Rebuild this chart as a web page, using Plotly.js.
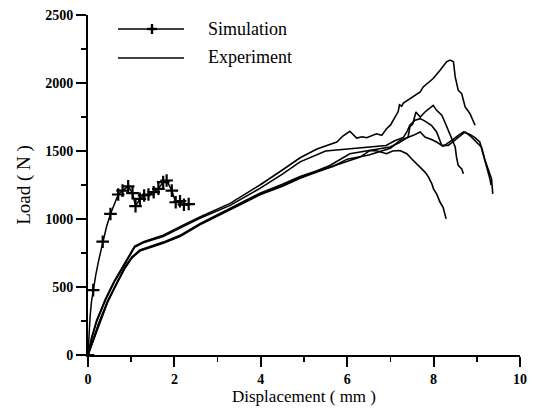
<!DOCTYPE html>
<html>
<head>
<meta charset="utf-8">
<script src="https://cdn.plot.ly/plotly-3.0.1.min.js"></script>
<style>html,body{margin:0;padding:0;background:#fff;}#chart{width:535px;height:415px;}</style>
</head>
<body>
<div id="chart"></div>
<script>
// Simulation markers ("+")
var simX = [0, 0.12, 0.34, 0.52, 0.70, 0.80, 0.93, 1.03, 1.10, 1.20, 1.30, 1.40, 1.52, 1.63, 1.74, 1.82, 1.94, 2.03, 2.13, 2.22, 2.33];
var simY = [0, 477, 833, 1037, 1180, 1209, 1240, 1190, 1095, 1148, 1173, 1180, 1197, 1222, 1271, 1283, 1209, 1123, 1131, 1105, 1110];
// Simulation curve
var simLineX = [0, 0.02, 0.05, 0.08, 0.12, 0.18, 0.25, 0.34, 0.43, 0.52, 0.61, 0.70, 0.80, 0.93, 1.03, 1.10, 1.20, 1.30, 1.40, 1.52, 1.63, 1.74, 1.82, 1.94, 2.03, 2.13, 2.22, 2.33];
var simLineY = [0, 150, 290, 390, 477, 590, 700, 833, 945, 1037, 1115, 1180, 1209, 1240, 1190, 1095, 1148, 1173, 1180, 1197, 1222, 1271, 1283, 1209, 1123, 1131, 1105, 1110];

// Experiment curves
var expAX = [0,0.08,0.2,0.4,0.6,0.8,0.95,1.08,1.3,1.74,2.2,2.59,3.29,3.98,4.5,4.91,5.3,5.76,5.9,6.06,6.22,6.35,6.45,6.58,6.68,6.8,6.91,7.0,7.11,7.18,7.21,7.26,7.3,7.5,7.69,7.76,7.9,7.99,8.15,8.3,8.38,8.46,8.5,8.57,8.65,8.73,8.84,8.96];
var expAY = [0,125,255,410,540,650,730,800,835,880,955,1015,1115,1250,1360,1450,1515,1566,1610,1645,1595,1605,1598,1615,1627,1615,1664,1690,1750,1790,1840,1830,1853,1895,1934,1971,2005,2033,2094,2156,2168,2156,2045,1947,1922,1824,1776,1689];

var expBX = [0,0.1,0.25,0.45,0.65,0.85,1.02,1.2,1.74,2.13,2.59,3.29,3.98,4.5,4.91,5.3,5.6,6.06,6.53,6.99,7.2,7.41,7.45,7.52,7.59,7.65,7.69,7.8,7.95,7.99,8.07,8.19,8.26,8.34,8.42,8.5,8.53,8.57,8.65,8.69];
var expBY = [0,95,235,395,525,645,722,772,830,880,966,1076,1190,1255,1312,1355,1394,1480,1504,1529,1560,1603,1676,1700,1787,1763,1750,1787,1824,1836,1799,1763,1713,1652,1590,1529,1455,1394,1369,1332];

var expCX = [0,0.08,0.2,0.4,0.6,0.8,0.95,1.08,1.3,1.74,2.2,2.59,3.29,3.98,4.5,4.91,5.5,6.0,6.5,6.9,7.1,7.3,7.38,7.45,7.57,7.69,7.8,7.95,8.07,8.19,8.34,8.45,8.57,8.73,8.85,8.92,9.11,9.19,9.27,9.34,9.37];
var expCY = [0,115,245,400,530,640,722,792,828,872,945,1005,1100,1225,1330,1420,1500,1515,1525,1540,1575,1600,1640,1690,1726,1738,1720,1689,1640,1541,1541,1570,1603,1640,1610,1590,1529,1431,1357,1296,1185];

var expDX = [0,0.1,0.25,0.45,0.65,0.85,1.02,1.2,1.74,2.13,2.59,3.29,3.98,4.5,4.91,5.3,5.68,6.0,6.5,7.0,7.22,7.4,7.53,7.69,7.8,7.95,8.07,8.22,8.3,8.42,8.55,8.69,8.84,8.95,9.07,9.15,9.22,9.3,9.33];
var expDY = [0,88,225,385,515,635,714,764,822,872,958,1068,1178,1240,1300,1345,1388,1440,1470,1520,1578,1600,1615,1640,1603,1585,1566,1534,1550,1578,1610,1640,1622,1600,1566,1480,1400,1300,1250];

var expEX = [0,0.1,0.25,0.45,0.65,0.85,1.02,1.2,1.74,2.13,2.59,3.29,3.98,4.5,4.91,5.3,5.68,6.3,6.53,6.7,6.91,7.05,7.22,7.38,7.49,7.57,7.65,7.72,7.8,7.88,7.96,8.0,8.07,8.15,8.22,8.26,8.29];
var expEY = [0,92,230,390,520,640,718,768,826,876,962,1072,1183,1245,1305,1350,1392,1455,1504,1500,1480,1500,1504,1480,1443,1420,1394,1370,1345,1310,1259,1220,1185,1123,1086,1040,1001];

var xTicks = [0, 2, 4, 6, 8, 10];
var yTicks = [0, 500, 1000, 1500, 2000, 2500];

var serif = 'Liberation Serif, Times New Roman, serif';
var expLine = {color: '#000', width: 1.6};

var traces = [
  {x: expAX, y: expAY, mode: 'lines', line: expLine, name: 'Experiment'},
  {x: expBX, y: expBY, mode: 'lines', line: expLine},
  {x: expCX, y: expCY, mode: 'lines', line: expLine},
  {x: expDX, y: expDY, mode: 'lines', line: expLine},
  {x: expEX, y: expEY, mode: 'lines', line: expLine},
  {x: simLineX, y: simLineY, mode: 'lines', name: 'Simulation', line: {color: '#000', width: 1.5}},
  {x: simX, y: simY, mode: 'markers', name: 'Simulation',
   marker: {symbol: 'cross-thin', size: 9, line: {color: '#000', width: 2.2}}}
];

function px(x) { return (x - 88) / 432; }
function py(y) { return (355 - y) / 340; }

var layout = {
  width: 535, height: 415,
  margin: {l: 88, r: 15, t: 15, b: 60},
  paper_bgcolor: '#fff', plot_bgcolor: '#fff',
  font: {family: serif, color: '#000'},
  showlegend: false,
  xaxis: {
    range: [0, 10], tickvals: xTicks, ticktext: xTicks.map(function (v) { return '<b>' + v + '</b>'; }),
    showgrid: false, zeroline: false, showline: true, linecolor: '#000', linewidth: 2,
    ticks: 'outside', ticklen: 10, tickwidth: 2, tickcolor: '#000',
    minor: {dtick: 1, ticks: 'outside', ticklen: 5, tickwidth: 1.5, tickcolor: '#000', showgrid: false},
    tickfont: {family: serif, size: 14, color: '#000'},
    title: {text: 'Displacement ( mm )', font: {family: serif, size: 17, color: '#000'}, standoff: 4}
  },
  yaxis: {
    range: [0, 2500], tickvals: yTicks, ticktext: yTicks.map(function (v) { return '<b>' + v + '</b>'; }),
    showgrid: false, zeroline: false, showline: true, linecolor: '#000', linewidth: 2,
    ticks: 'outside', ticklen: 10, tickwidth: 2, tickcolor: '#000',
    minor: {dtick: 250, ticks: 'outside', ticklen: 5, tickwidth: 1.5, tickcolor: '#000', showgrid: false},
    tickfont: {family: serif, size: 14, color: '#000'},
    title: {text: 'Load ( N )', font: {family: serif, size: 19, color: '#000'}, standoff: 10}
  },
  shapes: [
    {type: 'line', xref: 'paper', yref: 'paper', x0: px(118), x1: px(184), y0: py(29), y1: py(29), line: {color: '#000', width: 1.6}},
    {type: 'line', xref: 'paper', yref: 'paper', x0: px(152), x1: px(152), y0: py(24), y1: py(34), line: {color: '#000', width: 2.4}},
    {type: 'line', xref: 'paper', yref: 'paper', x0: px(147), x1: px(157), y0: py(29), y1: py(29), line: {color: '#000', width: 2.4}},
    {type: 'line', xref: 'paper', yref: 'paper', x0: px(118), x1: px(184), y0: py(58), y1: py(58), line: {color: '#000', width: 1.6}}
  ],
  annotations: [
    {xref: 'paper', yref: 'paper', x: px(206), y: py(29), xanchor: 'left', yanchor: 'middle', showarrow: false,
     text: 'Simulation', font: {family: serif, size: 18, color: '#000'}},
    {xref: 'paper', yref: 'paper', x: px(206), y: py(57), xanchor: 'left', yanchor: 'middle', showarrow: false,
     text: 'Experiment', font: {family: serif, size: 18, color: '#000'}}
  ]
};

Plotly.newPlot('chart', traces, layout, {displayModeBar: false, staticPlot: true});
</script>
</body>
</html>
